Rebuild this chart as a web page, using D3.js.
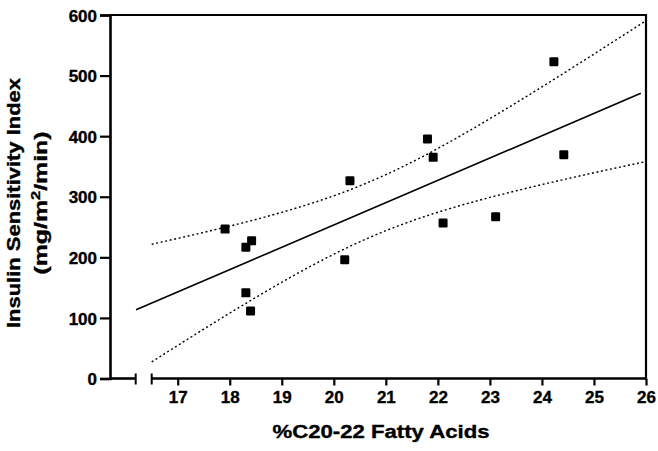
<!DOCTYPE html>
<html lang="en">
<head>
<meta charset="UTF-8" />
<title>Insulin Sensitivity vs %C20-22 Fatty Acids</title>
<script src="https://d3js.org/d3.v7.min.js"></script>
<style>
    body { margin: 0; background: #fff; }
    svg text { font-family: "Liberation Sans", Arial, sans-serif; font-weight: bold; fill: #000; stroke: #000; stroke-width: 0.35px; }
</style>
</head>
<body>
<svg id="chart" width="658" height="451"></svg>
<script>
    // data
    var fattyAcids  = [17.91, 18.31, 18.31, 18.42, 18.40, 20.21, 20.31, 21.80, 21.91, 22.10, 23.11, 24.23, 24.42];
    var sensitivity = [246.6, 216.8, 141.4, 227.2, 111.6, 195.9, 326.3, 395.3, 365.0, 256.6, 266.9, 522.9, 369.3];
    var xTicks = [17, 18, 19, 20, 21, 22, 23, 24, 25, 26];
    var yTicks = [0, 100, 200, 300, 400, 500, 600];
    var fitRange = [16.2, 25.9];   // extent of regression line
    var bandRange = [16.5, 26];    // extent of 95% confidence curves
    var tCrit = 2.201;             // t(0.975, df = 11)

    var svg = d3.select("#chart");

    var axisX0 = 110;   // y axis position
    var x = d3.scaleLinear().domain([16.5, 26]).range([151.7, 646]);
    var y = d3.scaleLinear().domain([0, 600]).range([378.5, 15]);

    // linear regression + confidence band
    var n = fattyAcids.length;
    var mx = d3.mean(fattyAcids), my = d3.mean(sensitivity);
    var sxx = 0, sxy = 0;
    for (var i = 0; i < n; i++) {
        sxx += (fattyAcids[i] - mx) * (fattyAcids[i] - mx);
        sxy += (fattyAcids[i] - mx) * (sensitivity[i] - my);
    }
    var slope = sxy / sxx;
    var icept = my - slope * mx;
    var sse = 0;
    for (var i = 0; i < n; i++) {
        var r = sensitivity[i] - (icept + slope * fattyAcids[i]);
        sse += r * r;
    }
    var se = Math.sqrt(sse / (n - 2));
    function half(v) { return tCrit * se * Math.sqrt(1 / n + (v - mx) * (v - mx) / sxx); }

    var bandX = d3.range(bandRange[0], bandRange[1] + 0.001, 0.05);
    var line = d3.line().x(d => x(d[0])).y(d => y(d[1])).curve(d3.curveMonotoneX);

    // confidence curves (dotted)
    svg.append("path")
        .attr("d", line(bandX.map(v => [v, icept + slope * v + half(v)])))
        .attr("fill", "none").attr("stroke", "#000")
        .attr("stroke-width", 1.4).attr("stroke-dasharray", "2,2.6");
    svg.append("path")
        .attr("d", line(bandX.map(v => [v, icept + slope * v - half(v)])))
        .attr("fill", "none").attr("stroke", "#000")
        .attr("stroke-width", 1.4).attr("stroke-dasharray", "2,2.6");

    // regression line
    svg.append("line")
        .attr("x1", x(fitRange[0])).attr("y1", y(icept + slope * fitRange[0]))
        .attr("x2", x(fitRange[1])).attr("y2", y(icept + slope * fitRange[1]))
        .attr("stroke", "#000").attr("stroke-width", 1.6);

    // frame: top and right
    svg.append("path")
        .attr("d", "M" + axisX0 + "," + y(600) + "H" + x(26) + "V" + y(0))
        .attr("fill", "none").attr("stroke", "#000").attr("stroke-width", 2.2);

    // y axis
    var yAxis = svg.append("g")
        .attr("transform", "translate(" + axisX0 + ",0)")
        .call(d3.axisLeft(y).tickValues(yTicks).tickSize(10).tickPadding(3));
    yAxis.select(".domain").attr("stroke-width", 2.6);
    yAxis.selectAll(".tick line").attr("stroke-width", 2.2);
    yAxis.selectAll(".tick text").style("font-size", "17px").attr("font-family", null).attr("dy", "0.36em");

    // x axis (broken)
    var xAxis = svg.append("g")
        .attr("transform", "translate(0," + y(0) + ")")
        .call(d3.axisBottom(x).tickValues(xTicks).tickSize(7).tickPadding(5));
    xAxis.select(".domain").remove();
    xAxis.selectAll(".tick line").attr("stroke-width", 2.2);
    xAxis.selectAll(".tick text").style("font-size", "17px").attr("font-family", null);

    var x0 = x.range()[0];
    var axisG = svg.append("g").attr("stroke", "#000").attr("stroke-width", 2.6).attr("fill", "none");
    // short stub by the origin
    axisG.append("line").attr("x1", axisX0).attr("x2", x0 - 16).attr("y1", y(0)).attr("y2", y(0));
    axisG.append("line").attr("x1", x0 - 16).attr("x2", x0 - 16).attr("y1", y(0) - 5).attr("y2", y(0) + 6).attr("stroke-width", 2);
    // main segment
    axisG.append("line").attr("x1", x0).attr("x2", x(26)).attr("y1", y(0)).attr("y2", y(0));
    axisG.append("line").attr("x1", x0).attr("x2", x0).attr("y1", y(0) - 5).attr("y2", y(0) + 6).attr("stroke-width", 2);

    // points
    svg.append("g").selectAll("rect")
        .data(d3.range(n))
        .enter().append("rect")
        .attr("x", i => x(fattyAcids[i]) - 4.5)
        .attr("y", i => y(sensitivity[i]) - 4.5)
        .attr("width", 9).attr("height", 9).attr("rx", 1.2)
        .attr("fill", "#000");

    // axis titles
    svg.append("text")
        .attr("x", 381).attr("y", 438)
        .attr("text-anchor", "middle")
        .attr("textLength", 217).attr("lengthAdjust", "spacingAndGlyphs")
        .style("font-size", "18px")
        .text("%C20-22 Fatty Acids");

    var yTitle = svg.append("g").attr("transform", "translate(0,203) rotate(-90)");
    yTitle.append("text")
        .attr("x", 0).attr("y", 20)
        .attr("text-anchor", "middle")
        .attr("textLength", 250).attr("lengthAdjust", "spacingAndGlyphs")
        .style("font-size", "18px")
        .text("Insulin Sensitivity Index");
    var t2 = yTitle.append("text")
        .attr("x", 0).attr("y", 46.5)
        .attr("text-anchor", "middle")
        .attr("textLength", 143).attr("lengthAdjust", "spacingAndGlyphs")
        .style("font-size", "18px");
    t2.append("tspan").text("(mg/m");
    t2.append("tspan").attr("dy", -7).style("font-size", "12px").text("2");
    t2.append("tspan").attr("dy", 7).text("/min)");
</script>
</body>
</html>
